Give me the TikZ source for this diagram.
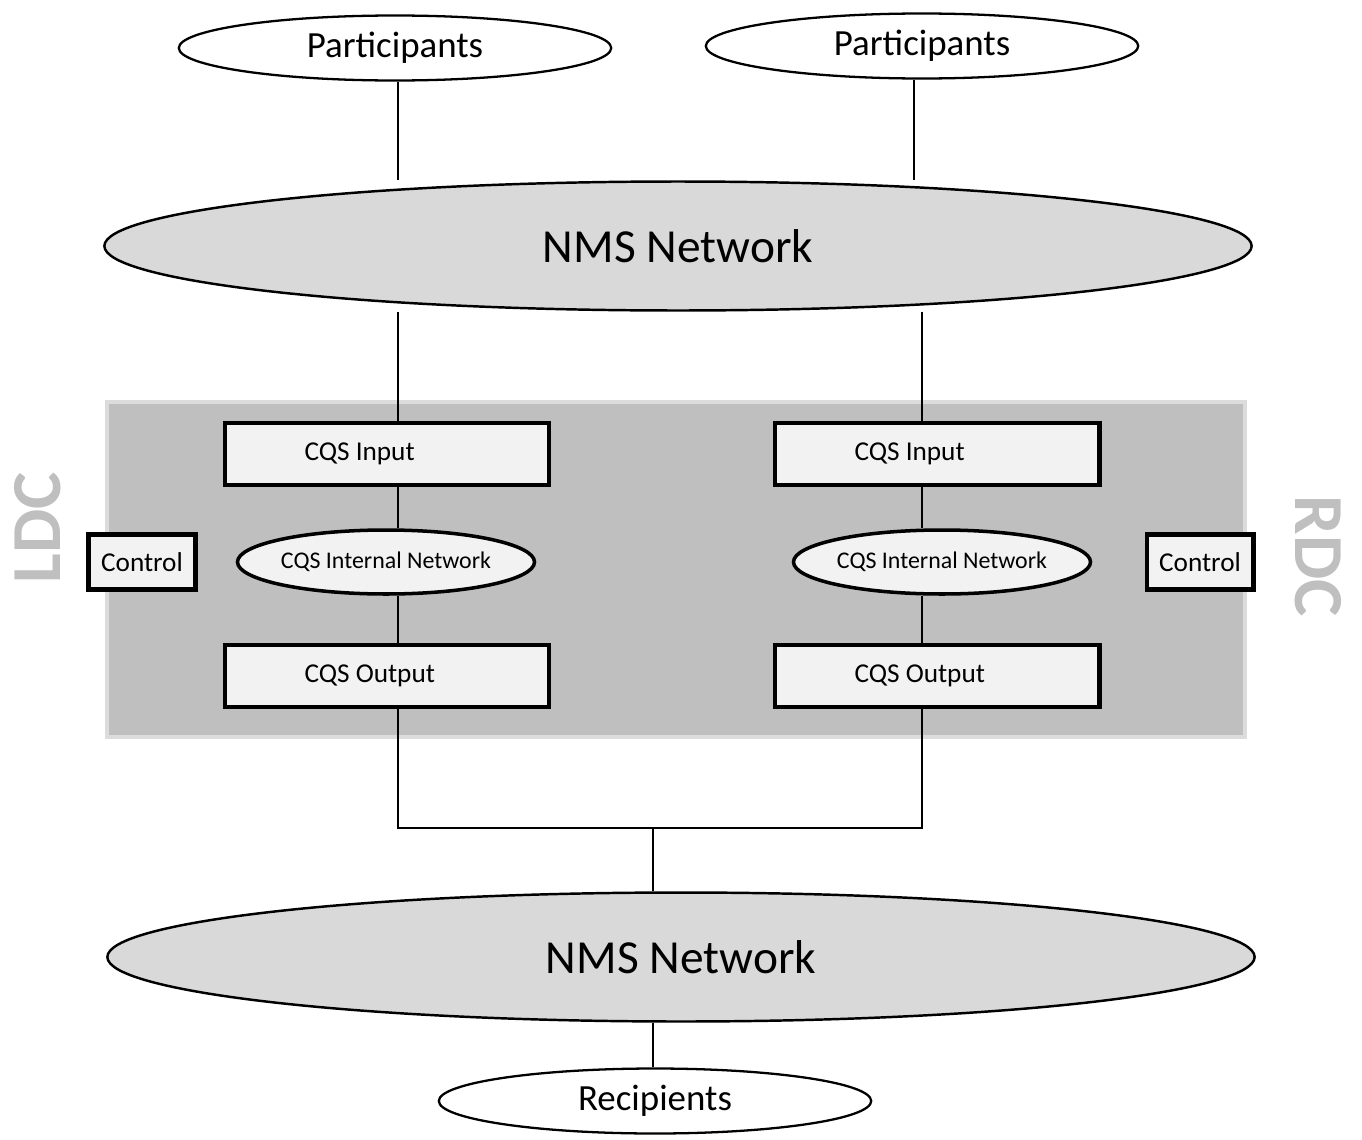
\documentclass[tikz,border=0pt]{standalone}
\usepackage{fontspec}
\setmainfont{Carlito}
\usetikzlibrary{shapes.geometric,backgrounds}
\definecolor{boxfill}{HTML}{F2F2F2}
\definecolor{netfill}{HTML}{D9D9D9}
\definecolor{dcfill}{HTML}{BFBFBF}
\definecolor{dcedge}{HTML}{DCDCDC}

\begin{document}
\begin{tikzpicture}[x=0.02cm, y=-0.02cm,
  endpt/.style={draw, ellipse, fill=white, line width=1.3pt, inner sep=0pt,
    minimum width=8.65cm, minimum height=1.3cm, font=\fontsize{21}{25}\selectfont},
  nms/.style={draw, ellipse, fill=netfill, line width=1.4pt, inner sep=0pt,
    minimum width=22.95cm, minimum height=2.58cm, font=\fontsize{27}{32}\selectfont},
  cqsbox/.style={draw, fill=boxfill, line width=2.3pt, inner ysep=0pt, inner xsep=1.6cm,
    minimum height=1.24cm, font=\fontsize{15.5}{18}\selectfont},
  cqsnet/.style={draw, ellipse, fill=boxfill, line width=2pt, inner sep=0pt,
    minimum width=5.85cm, minimum height=1.28cm, font=\fontsize{13.6}{16}\selectfont},
  ctrl/.style={draw, fill=boxfill, line width=2.3pt, inner sep=0pt,
    minimum width=2.14cm, minimum height=1.1cm, font=\fontsize{15.5}{18}\selectfont},
  dclabel/.style={text=dcfill, font=\fontsize{40}{48}\selectfont\bfseries},
  wire/.style={line width=1.1pt}]

\useasboundingbox (0,0) rectangle (1362,1139);

\def\cqstext#1{\makebox[3.3cm][l]{#1}}

% columns of the wires
\coordinate (colL) at (398,0);
\coordinate (colR) at (922,0);
\coordinate (join) at (653,828);

% participants and networks
\node[endpt] at (395,48) (partL) {Participants};
\node[endpt] at (922,46) (partR) {Participants};
\node[nms] at (678,246) (nmsT) {NMS Network};
\node[nms] at (681,957) (nmsB) {NMS Network};
\node[endpt] at (655,1101) (recip) {Recipients};

% left data centre
\node[cqsbox] at (387,454) (inL) {\cqstext{CQS Input}};
\node[cqsnet] at (386,562) (intL) {CQS Internal Network};
\node[cqsbox] at (387,676) (outL) {\cqstext{CQS Output}};
\node[ctrl] at (142,562) (ctrlL) {Control};
\node[dclabel, rotate=90] at (38,528) (ldc) {LDC};

% right data centre
\node[cqsbox] at (937,454) (inR) {\cqstext{CQS Input}};
\node[cqsnet] at (942,562) (intR) {CQS Internal Network};
\node[cqsbox] at (937,676) (outR) {\cqstext{CQS Output}};
\node[ctrl] at (1200,562) (ctrlR) {Control};
\node[dclabel, rotate=-90] at (1318,556) (rdc) {RDC};

\begin{pgfonlayer}{background}
\draw[fill=dcfill, draw=dcedge, line width=2.8pt] (107,402) rectangle (1245,737);

\draw[wire] (partL.south -| 398,0) -- (nmsT.north -| 398,0);
\draw[wire] (partR.south -| 914,0) -- (nmsT.north -| 914,0);
\draw[wire] (nmsT.south -| colL) -- (inL.north -| colL);
\draw[wire] (nmsT.south -| colR) -- (inR.north -| colR);
\draw[wire] (inL.south -| colL) -- (intL.north -| colL);
\draw[wire] (intL.south -| colL) -- (outL.north -| colL);
\draw[wire] (inR.south -| colR) -- (intR.north -| colR);
\draw[wire] (intR.south -| colR) -- (outR.north -| colR);
\draw[wire] (outL.south -| colL) |- (join);
\draw[wire] (outR.south -| colR) |- (join);
\draw[wire] (join) -- (nmsB.north -| join);
\draw[wire] (nmsB.south -| join) -- (recip.north -| join);
\end{pgfonlayer}

\end{tikzpicture}
\end{document}
